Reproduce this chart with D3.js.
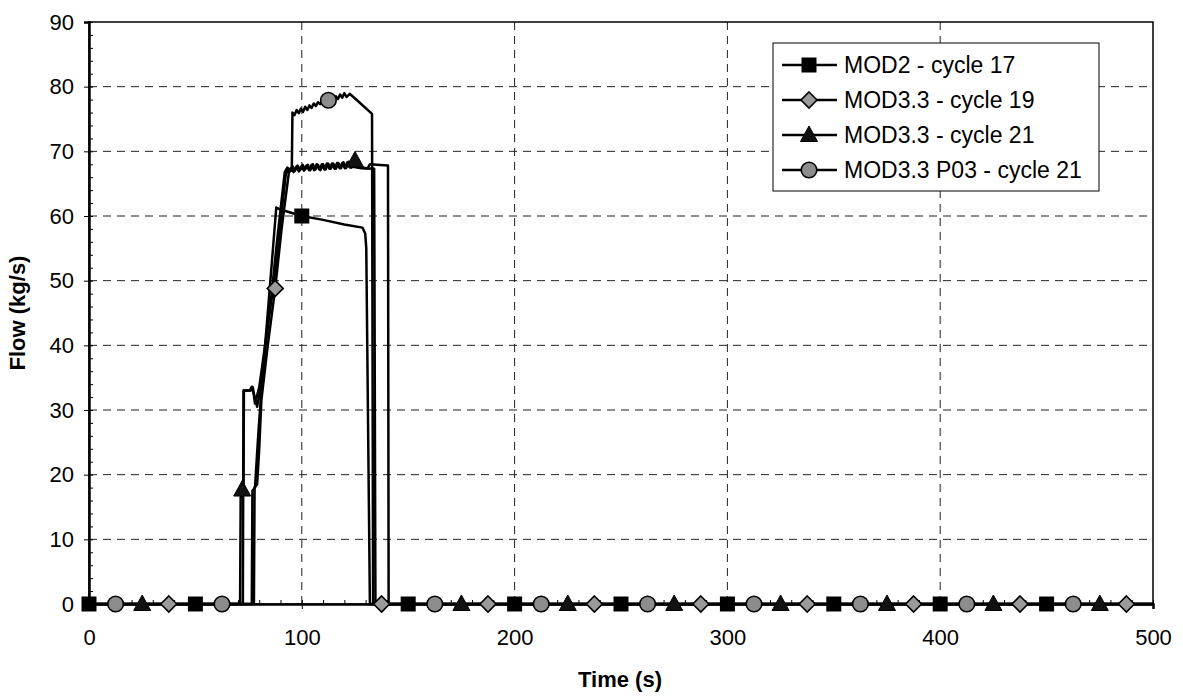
<!DOCTYPE html>
<html>
<head>
<meta charset="utf-8">
<script src="https://cdn.jsdelivr.net/npm/d3@7"></script>
<style>
    body { margin: 0; background: #fff; }
    text { font-family: "Liberation Sans", Arial, sans-serif; fill: #000; }
</style>
</head>
<body>
<script>
// Flow vs time for four code versions. Dense lines + sparse markers.
var xTicks = [0, 100, 200, 300, 400, 500];
var yTicks = [0, 10, 20, 30, 40, 50, 60, 70, 80, 90];

var seriesNames = ["MOD2 - cycle 17", "MOD3.3 - cycle 19",
    "MOD3.3 - cycle 21", "MOD3.3 P03 - cycle 21"];

// MOD2 - cycle 17 (square)
var mod2Line = [[0, 0], [76.5, 0], [76.8, 17.5], [78, 18], [79.5, 26],
    [81, 33], [84.5, 47], [88, 61.3], [90, 61], [100, 60], [110, 59.4],
    [120, 58.7], [128.5, 58.2], [129.8, 57.3], [130.3, 55], [132, 0],
    [500, 0]];
var mod2Marks = [[0, 0], [50, 0], [100, 60], [150, 0], [200, 0], [250, 0],
    [300, 0], [350, 0], [400, 0], [450, 0]];

// MOD3.3 - cycle 19 (diamond)
var c19Line = [[0, 0], [77.5, 0], [77.8, 18], [79, 18.5], [80, 24],
    [81, 31.5], [84, 40], [87.5, 48.8], [90.5, 58], [94, 66.9], [95, 67.4],
    [96.2, 66.8], [97.4, 67.6], [98.6, 66.9], [99.8, 67.7], [101, 67],
    [102.2, 67.8], [103.4, 67.1], [104.6, 67.9], [105.8, 67.1], [107, 68],
    [108.2, 67.2], [109.4, 68], [110.6, 67.2], [111.8, 68.1], [113, 67.3],
    [114.2, 68.1], [115.4, 67.3], [116.6, 68.2], [117.8, 67.4], [119, 68.2],
    [120.2, 67.4], [121.4, 68.3], [122.6, 67.5], [124, 67.6], [128, 67.4],
    [134, 67.3], [134.6, 0], [500, 0]];
var c19Marks = [[37.5, 0], [87.5, 48.8], [137.5, 0], [187.5, 0],
    [237.5, 0], [287.5, 0], [337.5, 0], [387.5, 0], [437.5, 0], [487.5, 0]];

// MOD3.3 - cycle 21 (triangle)
var c21Line = [[0, 0], [71, 0], [71.3, 17.7], [72.6, 17.7], [72.8, 33],
    [75.5, 33], [76.5, 33.6], [77.5, 32.5], [79, 30.5], [80.5, 33],
    [83, 40], [86, 48.5], [88, 55], [90, 61], [92, 66.8], [93.2, 67.5],
    [94.4, 66.9], [95.6, 67.7], [96.8, 67], [98, 67.8], [99.2, 67.1],
    [100.4, 67.9], [101.6, 67.2], [102.8, 67.9], [104, 67.1], [105.2, 68],
    [106.4, 67.2], [107.6, 67.9], [108.8, 67.1], [110, 68], [111.2, 67.2],
    [112.4, 68.1], [113.6, 67.3], [114.8, 68.1], [116, 67.3], [117.2, 68.2],
    [118.4, 67.4], [119.6, 68.3], [120.8, 67.4], [122, 68.4], [123.2, 67.5],
    [124.4, 68.5], [125.6, 67.6], [127, 67.5], [131, 67.4], [132, 68],
    [137, 67.9], [140.5, 67.8], [140.8, 0], [500, 0]];
var c21Marks = [[25, 0], [72, 17.7], [125, 68.6], [175, 0], [225, 0],
    [275, 0], [325, 0], [375, 0], [425, 0], [475, 0]];

// MOD3.3 P03 - cycle 21 (circle)
var p03Line = [[0, 0], [72.3, 0], [72.6, 33], [76, 33], [77, 33.5],
    [78, 31], [80, 33.5], [84, 43], [87, 50], [90, 59], [92.5, 66.5],
    [94, 67.3], [95.3, 67], [95.6, 76], [96.6, 75.6], [97.6, 76.4],
    [98.6, 75.9], [99.6, 76.6], [100.6, 76.1], [101.6, 76.9], [102.6, 76.4],
    [103.6, 77.1], [104.6, 76.7], [105.6, 77.4], [106.6, 77], [107.6, 77.6],
    [108.6, 77.3], [110, 77.8], [112.5, 77.9], [115, 78], [116, 78.5],
    [117, 78.1], [118, 78.8], [119, 78.3], [120, 79], [121, 78.4],
    [122.5, 78.9], [127, 77.6], [133, 75.8], [133.5, 0], [500, 0]];
var p03Marks = [[12.5, 0], [62.5, 0], [112.5, 77.9], [162.5, 0], [212.5, 0],
    [262.5, 0], [312.5, 0], [362.5, 0], [412.5, 0], [462.5, 0]];

var series = [
    {name: seriesNames[0], line: mod2Line, marks: mod2Marks, shape: "square"},
    {name: seriesNames[1], line: c19Line, marks: c19Marks, shape: "diamond"},
    {name: seriesNames[2], line: c21Line, marks: c21Marks, shape: "triangle"},
    {name: seriesNames[3], line: p03Line, marks: p03Marks, shape: "circle"}
];

var margin = {top: 22, right: 30, bottom: 93, left: 89},
    width = 1183 - margin.left - margin.right,
    height = 697 - margin.top - margin.bottom;

var svg = d3.select("body").append("svg")
    .attr("width", 1183)
    .attr("height", 697);

var g = svg.append("g")
    .attr("transform", "translate(" + margin.left + "," + margin.top + ")");

var x = d3.scaleLinear().domain([0, 500]).range([0, width]);
var y = d3.scaleLinear().domain([0, 90]).range([height, 0]);

// dashed grid
g.selectAll(".vgrid")
    .data(xTicks.slice(1, -1))
    .enter().append("line")
    .attr("x1", function(d) { return x(d); })
    .attr("x2", function(d) { return x(d); })
    .attr("y1", 0).attr("y2", height)
    .attr("stroke", "#222").attr("stroke-width", 1)
    .attr("stroke-dasharray", "8,6");
g.selectAll(".hgrid")
    .data(yTicks.slice(1, -1))
    .enter().append("line")
    .attr("y1", function(d) { return y(d); })
    .attr("y2", function(d) { return y(d); })
    .attr("x1", 0).attr("x2", width)
    .attr("stroke", "#222").attr("stroke-width", 1)
    .attr("stroke-dasharray", "8,6");

// plot frame
g.append("rect")
    .attr("width", width).attr("height", height)
    .attr("fill", "none").attr("stroke", "#000").attr("stroke-width", 1.5);

// minor ticks (inside)
g.append("g")
    .call(d3.axisLeft(y).tickValues(d3.range(0, 91, 2)).tickSize(-4)
        .tickFormat(""))
    .call(function(s) { s.select(".domain").remove(); });
g.append("g")
    .attr("transform", "translate(0," + height + ")")
    .call(d3.axisBottom(x).tickValues(d3.range(0, 501, 10)).tickSize(-4)
        .tickFormat(""))
    .call(function(s) { s.select(".domain").remove(); });

// major axes
var yAxis = g.append("g")
    .call(d3.axisLeft(y).tickValues(yTicks).tickSize(5).tickPadding(10));
var xAxis = g.append("g")
    .attr("transform", "translate(0," + height + ")")
    .call(d3.axisBottom(x).tickValues(xTicks).tickSize(5).tickPadding(20));
[yAxis, xAxis].forEach(function(a) {
    a.select(".domain").attr("stroke-width", 2.5);
    a.selectAll("text").attr("font-size", "22px")
        .attr("font-family", "Liberation Sans, Arial, sans-serif");
});

// series lines
var line = d3.line()
    .x(function(d) { return x(d[0]); })
    .y(function(d) { return y(d[1]); });

series.forEach(function(s) {
    g.append("path")
        .datum(s.line)
        .attr("d", line)
        .attr("fill", "none")
        .attr("stroke", "#000")
        .attr("stroke-width", 2.5)
        .attr("stroke-linejoin", "round");
});

// markers
function drawMarker(sel, shape) {
    if (shape === "square") {
        sel.append("rect").attr("x", -7.5).attr("y", -7.5)
            .attr("width", 15).attr("height", 15)
            .attr("fill", "#000");
    } else if (shape === "diamond") {
        sel.append("path").attr("d", "M0,-8L8,0L0,8L-8,0Z")
            .attr("fill", "#9a9a9a").attr("stroke", "#000")
            .attr("stroke-width", 1.6);
    } else if (shape === "triangle") {
        sel.append("path").attr("d", "M0,-9L8.5,6.5L-8.5,6.5Z")
            .attr("fill", "#111").attr("stroke", "#000")
            .attr("stroke-width", 1);
    } else {
        sel.append("circle").attr("r", 7.8)
            .attr("fill", "#8c8c8c").attr("stroke", "#000")
            .attr("stroke-width", 1.6);
    }
}

series.forEach(function(s) {
    g.selectAll(null)
        .data(s.marks)
        .enter().append("g")
        .attr("transform", function(d) {
            return "translate(" + x(d[0]) + "," + y(d[1]) + ")";
        })
        .each(function() { drawMarker(d3.select(this), s.shape); });
});

// axis titles
svg.append("text")
    .attr("x", 620).attr("y", 687)
    .attr("text-anchor", "middle")
    .attr("font-size", "22px").attr("font-weight", "bold")
    .text("Time (s)");
svg.append("text")
    .attr("transform", "translate(25,313) rotate(-90)")
    .attr("text-anchor", "middle")
    .attr("font-size", "22px").attr("font-weight", "bold")
    .text("Flow (kg/s)");

// legend
var legend = svg.append("g").attr("transform", "translate(773,43)");
legend.append("rect")
    .attr("width", 326).attr("height", 148)
    .attr("fill", "#fff").attr("stroke", "#000").attr("stroke-width", 1);
series.forEach(function(s, i) {
    var row = legend.append("g")
        .attr("transform", "translate(0," + (22 + i * 35) + ")");
    row.append("line")
        .attr("x1", 9).attr("x2", 64)
        .attr("stroke", "#000").attr("stroke-width", 2.5);
    var m = row.append("g").attr("transform", "translate(36,0)");
    drawMarker(m, s.shape);
    row.append("text")
        .attr("x", 71).attr("y", 8)
        .attr("font-size", "23px")
        .text(s.name);
});
</script>
</body>
</html>
